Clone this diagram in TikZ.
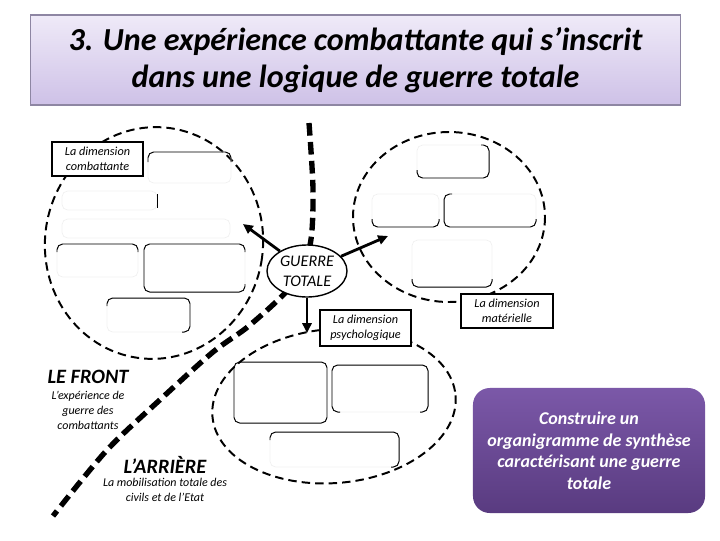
\documentclass[tikz,border=0pt]{standalone}
\usepackage{fontspec}
\setmainfont{Carlito}
\usetikzlibrary{arrows.meta,shapes.geometric}

\definecolor{titletop}{HTML}{EFEAF8}
\definecolor{titlebot}{HTML}{CEC1E7}
\definecolor{titleline}{HTML}{8E86A3}
\definecolor{tasktop}{HTML}{7B58A8}
\definecolor{taskbot}{HTML}{593B80}

\tikzset{
  zone/.style={line width=1.4pt, dash pattern=on 6pt off 3.6pt},
  frontline/.style={line width=3.8pt, dash pattern=on 9pt off 4.5pt},
  dimlabel/.style={draw, line width=2pt, fill=white, align=center, inner sep=0pt,
    font=\fontsize{8.7}{11}\selectfont\itshape},
  blank/.style={draw=black!6, line width=0.5pt, rounded corners=4pt},
  edge/.style={line width=0.7pt, rounded corners=4pt},
  link/.style={line width=2pt, -{Triangle[length=7pt,width=6.5pt]}},
  zonetitle/.style={font=\fontsize{14.5}{16}\selectfont\bfseries\itshape},
  zonetext/.style={align=center, font=\fontsize{8.5}{10.6}\selectfont\itshape},
}

\begin{document}
\begin{tikzpicture}[x=0.025cm, y=-0.025cm]
    \useasboundingbox (0,0) rectangle (720,540);

    % title
    \node[draw=titleline, line width=0.8pt, top color=titletop, bottom color=titlebot,
      minimum width=16.225cm, minimum height=2.25cm, align=center,
      font=\fontsize{22.8}{26}\selectfont\bfseries\itshape] (title) at (355.5,60)
      {3. Une expérience combattante qui s’inscrit\\dans une logique de guerre totale};

    % the three zones
    \draw[zone, rotate around={-8:(154,243)}] (154,243) ellipse [x radius=109, y radius=116];
    \draw[zone] (449,217) ellipse [x radius=96, y radius=85];
    \draw[zone, rotate around={5:(334,406)}] (334,406) ellipse [x radius=122, y radius=77];

    % front line between LE FRONT and L'ARRIERE
    \draw[frontline] plot[smooth] coordinates {(309,123) (313,190) (310,245) (292,285)
      (250,325) (213,352) (163,397) (107,450) (53,516)};

    % empty boxes, combattante
    \draw[blank] (148,152) rectangle (231,183);
    \draw[edge] (148,162) -- (148,152) -- (231,152) -- (231,162);
    \draw[blank] (62,191) rectangle (157,210);
    \draw[edge] (157,194) -- (157,208);
    \draw[blank] (62,219) rectangle (230,238);
    \draw[blank] (57,244) rectangle (138,277);
    \draw[edge] (57,252) -- (57,244) -- (138,244) -- (138,252);
    \draw[blank] (144,244) rectangle (245,292);
    \draw[edge] (245,252) -- (245,244) -- (144,244) -- (144,292) -- (245,292) -- (245,284);
    \draw[blank] (107,298) rectangle (190,332);
    \draw[edge] (107,306) -- (107,298) -- (190,298) -- (190,332) -- (182,332);

    % empty boxes, materielle
    \draw[blank] (417,145) rectangle (489,178);
    \draw[edge] (481,145) -- (489,145) -- (489,178) -- (417,178) -- (417,170);
    \draw[blank] (372,194) rectangle (439,227);
    \draw[edge] (372,219) -- (372,227) -- (439,227) -- (439,219);
    \draw[blank] (444,194) rectangle (536,227);
    \draw[edge] (452,194) -- (444,194) -- (444,227) -- (536,227) -- (536,219);
    \draw[blank] (412,240) rectangle (492,287);
    \draw[edge] (412,279) -- (412,287) -- (492,287) -- (492,279);

    % empty boxes, psychologique
    \draw[edge] (234,362) rectangle (327,423);
    \draw[blank] (332,365) rectangle (428,412);
    \draw[edge] (340,412) -- (332,412) -- (332,365) -- (428,365) -- (428,412) -- (420,412);
    \draw[blank] (270,432) rectangle (399,467);
    \draw[edge] (270,440) -- (270,432) -- (399,432) -- (399,467) -- (391,467);

    % centre
    \node[ellipse, draw, line width=1pt, fill=white, minimum width=2cm, minimum height=1.3cm,
      inner sep=0pt, align=center, font=\fontsize{11.5}{14}\selectfont\itshape]
      (guerre) at (307,271) {GUERRE\\TOTALE};
    \coordinate (toCombat) at (243,224);
    \coordinate (toMat) at (388,236);
    \coordinate (toPsy) at (307,333);
    \draw[link] (guerre) -- (toCombat);
    \draw[link] (guerre) -- (toMat);
    \draw[link] (guerre.south) -- (toPsy);

    % dimension labels
    \node[dimlabel, minimum width=2.275cm, minimum height=0.85cm] (combat) at (97.5,159)
      {La dimension\\combattante};
    \node[dimlabel, minimum width=2.275cm, minimum height=0.9cm] (psy) at (365.5,328)
      {La dimension\\psychologique};
    \node[dimlabel, minimum width=2.3cm, minimum height=0.85cm] (mat) at (507,311)
      {La dimension\\matérielle};

    % the two sides
    \node[zonetitle] (front) at (88,377) {LE FRONT};
    \node[zonetext] (frontText) at (88,410) {L’expérience de\\guerre des\\combattants};
    \node[zonetitle] (arriere) at (165,465) {L’ARRIÈRE};
    \node[zonetext] (arriereText) at (165,490) {La mobilisation totale des\\civils et de l’Etat};

    % task
    \node[rounded corners=12pt, top color=tasktop, bottom color=taskbot,
      minimum width=5.8cm, minimum height=3.125cm, align=center, text=white,
      font=\fontsize{12.8}{15.3}\selectfont\bfseries\itshape] (task) at (589,450.5)
      {Construire un\\organigramme de synthèse\\caractérisant une guerre\\totale};
\end{tikzpicture}
\end{document}
